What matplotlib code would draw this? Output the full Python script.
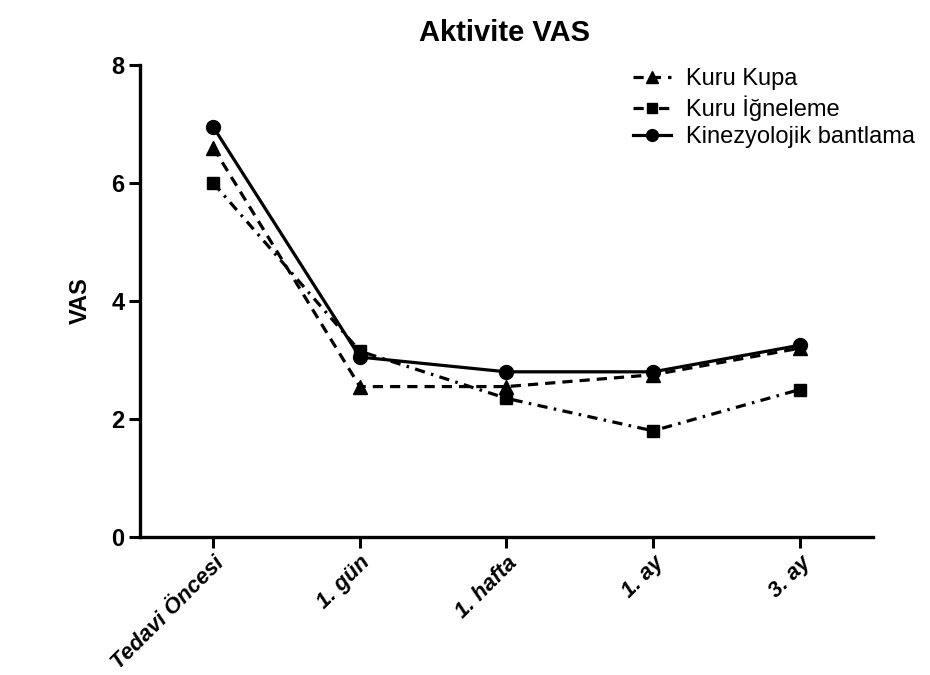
import matplotlib
matplotlib.use("Agg")
import matplotlib.pyplot as plt
import matplotlib.transforms as mtransforms

plt.rcParams["font.family"] = ["Liberation Sans", "DejaVu Sans"]

# Time points and mean VAS scores per treatment group
time_points = ["Tedavi Öncesi", "1. gün", "1. hafta", "1. ay", "3. ay"]
kuru_kupa = [6.6, 2.55, 2.55, 2.75, 3.2]
kuru_igneleme = [6.0, 3.15, 2.35, 1.8, 2.5]
kinezyolojik = [6.95, 3.05, 2.8, 2.8, 3.25]
y_ticks = [0, 2, 4, 6, 8]

fig = plt.figure(figsize=(9.3, 6.75), dpi=100)
ax = fig.add_axes([0.1505, 0.2044, 0.7882, 0.6993])

x = range(len(time_points))
ax.plot(x, kuru_kupa, color="black", linewidth=2.3, linestyle=(0, (3.2, 2.2)),
        marker="^", markersize=10, label="Kuru Kupa")
ax.plot(x, kuru_igneleme, color="black", linewidth=2.3, linestyle=(0, (3.2, 2, 0.8, 2)),
        marker="s", markersize=9, label="Kuru İğneleme")
ax.plot(x, kinezyolojik, color="black", linewidth=2.3, linestyle="-",
        marker="o", markersize=10, label="Kinezyolojik bantlama")

ax.set_xlim(-0.5, 4.5)
ax.set_ylim(0, 8)
ax.set_xticks(list(x))
ax.set_xticklabels(time_points, rotation=45, ha="right", rotation_mode="anchor",
                   fontsize=16, fontweight="bold", fontstyle="italic")
shift = mtransforms.ScaledTranslation(-7 / 100, 0, fig.dpi_scale_trans)
for lbl in ax.get_xticklabels():
    lbl.set_transform(lbl.get_transform() + shift)
ax.set_yticks(y_ticks)
ax.set_yticklabels([str(v) for v in y_ticks], fontsize=17, fontweight="bold")
ax.tick_params(axis="both", width=2.2, length=8, direction="out", pad=3)

for side in ("top", "right"):
    ax.spines[side].set_visible(False)
for side in ("left", "bottom"):
    ax.spines[side].set_linewidth(2.4)

ax.set_ylabel("VAS", fontsize=17, fontweight="bold", labelpad=14)
fig.text(0.543, 0.951, "Aktivite VAS", ha="center", va="center",
         fontsize=21, fontweight="bold")

ax.legend(loc="upper left", bbox_to_anchor=(0.681, 0.899), bbox_transform=fig.transFigure,
          frameon=False, fontsize=17, handlelength=1.6, handletextpad=0.65,
          labelspacing=0.22, borderpad=0, borderaxespad=0, markerscale=0.85)

fig.savefig("out.png", dpi=100)
